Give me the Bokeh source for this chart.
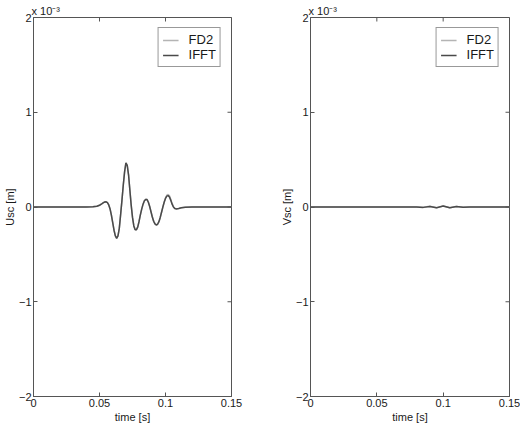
import math
from bokeh.plotting import figure
from bokeh.layouts import row
from bokeh.models import (Legend, FixedTicker, NumeralTickFormatter,
                          CustomJSTickFormatter, Range1d)
from bokeh.embed import file_html
from bokeh.resources import INLINE

# ---- data (displacements in units of 1e-3 m) ----
time = [0.0, 0.02, 0.04, 0.045, 0.048, 0.050, 0.052, 0.053, 0.054, 0.055,
        0.056, 0.057, 0.058, 0.059, 0.060, 0.061, 0.062, 0.063, 0.064, 0.065,
        0.066, 0.067, 0.068, 0.069, 0.070, 0.071, 0.072, 0.073, 0.074, 0.075,
        0.076, 0.077, 0.078, 0.079, 0.080, 0.081, 0.082, 0.083, 0.084, 0.085,
        0.086, 0.087, 0.088, 0.089, 0.090, 0.091, 0.092, 0.093, 0.094, 0.095,
        0.096, 0.097, 0.098, 0.099, 0.100, 0.101, 0.102, 0.103, 0.104, 0.105,
        0.106, 0.107, 0.108, 0.110, 0.112, 0.115, 0.120, 0.130, 0.140, 0.150]

usc_ifft = [0.0, 0.0, 0.0, 0.002, 0.008, 0.018, 0.036, 0.046, 0.053, 0.055,
            0.046, 0.022, -0.02, -0.085, -0.165, -0.245, -0.305, -0.33, -0.305, -0.225,
            -0.08, 0.07, 0.23, 0.37, 0.465, 0.44, 0.34, 0.18, 0.02, -0.11,
            -0.20, -0.24, -0.24, -0.21, -0.15, -0.08, -0.02, 0.03, 0.065, 0.08,
            0.078, 0.05, 0.005, -0.05, -0.105, -0.15, -0.178, -0.19, -0.182, -0.155,
            -0.11, -0.055, 0.0, 0.05, 0.09, 0.115, 0.12, 0.105, 0.07, 0.03,
            0.0, -0.015, -0.02, -0.015, -0.008, -0.003, 0.0, 0.0, 0.0, 0.0]

usc_fd2 = [0.0, 0.0, 0.0, 0.002, 0.008, 0.019, 0.037, 0.047, 0.054, 0.056,
           0.047, 0.023, -0.019, -0.083, -0.163, -0.243, -0.303, -0.328, -0.304, -0.226,
           -0.082, 0.068, 0.228, 0.368, 0.463, 0.441, 0.343, 0.184, 0.024, -0.106,
           -0.197, -0.238, -0.239, -0.21, -0.151, -0.082, -0.022, 0.028, 0.064, 0.081,
           0.08, 0.054, 0.009, -0.046, -0.101, -0.147, -0.176, -0.189, -0.183, -0.158,
           -0.114, -0.058, -0.002, 0.052, 0.096, 0.124, 0.132, 0.118, 0.082, 0.038,
           0.004, -0.013, -0.019, -0.015, -0.008, -0.003, 0.0, 0.0, 0.0, 0.0]

vsc_time = [0.0, 0.08, 0.085, 0.09, 0.095, 0.100, 0.105, 0.110, 0.115, 0.120, 0.150]
vsc_ifft = [0.0, 0.0, -0.004, 0.006, -0.008, 0.010, -0.008, 0.005, -0.003, 0.0, 0.0]
vsc_fd2 = [0.0, 0.0, -0.003, 0.007, -0.009, 0.011, -0.007, 0.006, -0.002, 0.0, 0.0]

x_ticks = [0, 0.05, 0.1, 0.15]
y_ticks = [-2, -1, 0, 1, 2]
x_lim = (0, 0.15)
y_lim = (-2, 2)
series_names = ["FD2", "IFFT"]
scale_text = "x 10\u207b\u00b3"

FONT = "Liberation Sans"
TEXT = "#1a1a1a"
AXIS = "#555555"
FD2_COLOR = "#b4b4b4"
IFFT_COLOR = "#4a4a4a"


def panel(ylabel, t, fd2, ifft, width, bl, br):
    p = figure(width=width, height=425, x_range=Range1d(*x_lim), y_range=Range1d(*y_lim),
               output_backend="svg", toolbar_location=None,
               min_border_left=bl, min_border_right=br, min_border_top=17,
               min_border_bottom=29)
    p.title.text = scale_text
    p.title.align = "left"
    p.title.text_font = FONT
    p.title.text_font_size = "11px"
    p.title.text_font_style = "normal"
    p.title.text_color = TEXT
    p.title.standoff = 1
    p.title.offset = -2
    p.xgrid.visible = False
    p.ygrid.visible = False
    p.outline_line_color = AXIS
    p.outline_line_width = 1
    p.background_fill_color = "white"
    p.border_fill_color = "white"

    r1 = p.line(t, fd2, line_color=FD2_COLOR, line_width=1.5)
    r2 = p.line(t, ifft, line_color=IFFT_COLOR, line_width=1.5)

    # inward ticks on the top and right edges of the box
    p.scatter(x=x_ticks, y=[y_lim[1]] * len(x_ticks), marker="dash", angle=math.pi / 2,
              size=8, line_color=AXIS, line_width=1)
    p.scatter(x=[x_lim[1]] * len(y_ticks), y=y_ticks, marker="dash",
              size=8, line_color=AXIS, line_width=1)

    for ax in (p.xaxis[0], p.yaxis[0]):
        ax.major_tick_in = 4
        ax.major_tick_out = 0
        ax.minor_tick_line_color = None
        ax.axis_line_color = AXIS
        ax.major_tick_line_color = AXIS
        ax.major_label_text_font = FONT
        ax.major_label_text_font_size = "11px"
        ax.major_label_text_color = TEXT
        ax.axis_label_text_font = FONT
        ax.axis_label_text_font_size = "11px"
        ax.axis_label_text_font_style = "normal"
        ax.axis_label_text_color = TEXT
        ax.major_label_standoff = 2
        ax.axis_label_standoff = 1
    p.yaxis[0].axis_label_standoff = 0
    p.xaxis[0].ticker = FixedTicker(ticks=x_ticks, minor_ticks=[])
    p.xaxis[0].formatter = NumeralTickFormatter(format="0.[00]")
    p.xaxis[0].axis_label = "time [s]"
    p.yaxis[0].ticker = FixedTicker(ticks=y_ticks, minor_ticks=[])
    p.yaxis[0].formatter = CustomJSTickFormatter(
        code="return tick < 0 ? '\\u2212' + Math.abs(tick) : String(tick);")
    p.yaxis[0].axis_label = ylabel

    legend = Legend(items=[(series_names[0], [r1]), (series_names[1], [r2])],
                    location="top_right", margin=10, padding=4, spacing=0,
                    glyph_width=16, glyph_height=14, label_height=14, label_standoff=10,
                    label_text_font=FONT, label_text_font_size="13px", label_text_color=TEXT,
                    border_line_color="#333333", border_line_width=1,
                    background_fill_color="white", background_fill_alpha=1)
    p.add_layout(legend)
    return p


p1 = panel("Usc [m]", time, usc_fd2, usc_ifft, 277, 29, 46)
p2 = panel("Vsc [m]", vsc_time, vsc_fd2, vsc_ifft, 243, 30, 11)
layout = row(p1, p2)

open("out.html", "w").write(file_html(layout, INLINE))
